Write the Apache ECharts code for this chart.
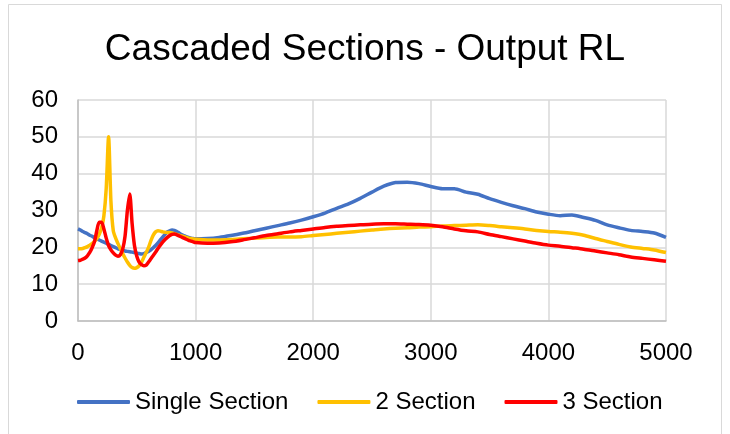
<!DOCTYPE html>
<html>
<head>
<meta charset="utf-8">
<script src="https://cdn.jsdelivr.net/npm/echarts@6/dist/echarts.min.js"></script>
<style>
  html, body { margin: 0; padding: 0; background: #ffffff; }
  #chart { width: 730px; height: 434px; }
</style>
</head>
<body>
<div id="chart"></div>
<script>
// Frequency sample points (fine steps up to 1000, then every 100)
const freq = [
  0, 20, 40, 60, 80, 100, 120, 140, 160, 180,
  200, 220, 240, 260, 280, 300, 320, 340, 360, 380,
  400, 420, 440, 460, 480, 500, 520, 540, 560, 580,
  600, 620, 640, 660, 680, 700, 720, 740, 760, 780,
  800, 820, 840, 860, 880, 900, 920, 940, 960, 980,
  1000, 1100, 1200, 1300, 1400, 1500, 1600, 1700, 1800, 1900,
  2000, 2100, 2200, 2300, 2400, 2500, 2600, 2700, 2800, 2900,
  3000, 3100, 3200, 3300, 3400, 3500, 3600, 3700, 3800, 3900,
  4000, 4100, 4200, 4300, 4400, 4500, 4600, 4700, 4800, 4900,
  5000
];

const singleSection = [
  25.0, 24.7, 24.3, 24.0, 23.7, 23.3, 23.0, 22.6, 22.3, 22.0,
  21.7, 21.4, 21.1, 20.8, 20.5, 20.2, 19.9, 19.6, 19.4, 19.2,
  19.0, 18.9, 18.8, 18.7, 18.6, 18.4, 18.3, 18.2, 18.3, 18.6,
  18.9, 19.3, 19.9, 20.5, 21.2, 22.0, 22.8, 23.5, 24.2, 24.5,
  24.7, 24.6, 24.3, 23.9, 23.5, 23.2, 22.9, 22.7, 22.5, 22.4,
  22.3, 22.4, 22.7, 23.2, 23.8, 24.5, 25.2, 25.9, 26.6, 27.4,
  28.3, 29.3, 30.6, 31.8, 33.3, 35.0, 36.6, 37.6, 37.7, 37.3,
  36.5, 35.9, 35.9, 35.0, 34.4, 33.2, 32.2, 31.3, 30.5, 29.6,
  29.0, 28.6, 28.8, 28.1, 27.3, 26.1, 25.3, 24.6, 24.3, 23.9,
  22.7
];

const twoSection = [
  19.6, 19.6, 19.7, 19.9, 20.2, 20.6, 21.0, 21.6, 22.4, 23.5,
  25.2, 28.5, 36.0, 50.0, 32.5, 24.5, 22.5, 21.0, 19.6, 18.3,
  17.1, 16.0, 15.1, 14.5, 14.3, 14.5, 15.0, 16.0, 17.3, 18.6,
  20.0, 21.8, 23.3, 24.2, 24.5, 24.4, 24.2, 24.1, 24.0, 24.0,
  23.9, 23.7, 23.5, 23.3, 23.1, 22.9, 22.7, 22.5, 22.4, 22.3,
  22.2, 22.0, 22.0, 22.1, 22.3, 22.5, 22.7, 22.8, 22.8, 22.9,
  23.2, 23.5, 23.8, 24.1, 24.4, 24.7, 25.0, 25.2, 25.3, 25.5,
  25.6, 25.8, 25.9, 26.0, 26.1, 25.9, 25.6, 25.3, 25.0, 24.6,
  24.3, 24.1, 23.8, 23.3, 22.4, 21.6, 20.8, 20.1, 19.7, 19.3,
  18.6
];

const threeSection = [
  16.4, 16.5, 16.8, 17.1, 17.7, 18.6, 19.9, 21.5, 24.5, 26.8,
  26.8, 25.0, 22.5, 20.5, 19.3, 18.5, 17.9, 17.6, 18.0, 19.5,
  23.0, 30.0, 34.5, 26.5, 20.5, 17.6, 16.0, 15.3, 15.0, 15.2,
  16.0, 16.9, 17.8, 18.7, 19.7, 20.6, 21.4, 22.1, 22.7, 23.2,
  23.5, 23.6, 23.4, 23.1, 22.8, 22.5, 22.2, 21.9, 21.7, 21.5,
  21.3, 21.1, 21.2, 21.5, 22.0, 22.6, 23.2, 23.7, 24.2, 24.6,
  25.0, 25.4, 25.7, 25.9, 26.1, 26.3, 26.4, 26.4, 26.3, 26.2,
  26.0, 25.6, 25.0, 24.5, 24.2, 23.5, 22.9, 22.3, 21.7, 21.1,
  20.6, 20.3, 19.9, 19.5, 19.0, 18.5, 18.0, 17.4, 17.0, 16.6,
  16.2
];

const seriesNames = ['Single Section', '2 Section', '3 Section'];
const seriesColors = ['#4472C4', '#FFC000', '#FF0000'];
const seriesValues = [singleSection, twoSection, threeSection];

const FONT = '"Liberation Sans", Arial, sans-serif';

const chart = echarts.init(document.getElementById('chart'), null, { renderer: 'canvas' });

chart.setOption({
  backgroundColor: '#ffffff',
  animation: false,
  title: {
    text: 'Cascaded Sections - Output RL',
    left: 'center',
    top: 26,
    textStyle: { fontFamily: FONT, fontSize: 37, fontWeight: 'normal', color: '#000000' }
  },
  legend: {
    bottom: 15,
    left: 72,
    icon: 'roundRect',
    itemWidth: 53,
    itemHeight: 4,
    itemGap: 29,
    textStyle: { fontFamily: FONT, fontSize: 24, color: '#000000' },
    data: seriesNames
  },
  grid: { left: 78, right: 64, top: 100, bottom: 113, containLabel: false },
  xAxis: {
    type: 'value',
    min: 0,
    max: 5000,
    interval: 1000,
    axisLine: { show: true, lineStyle: { color: '#bfbfbf', width: 1.5 } },
    axisTick: { show: false },
    axisLabel: {
      fontFamily: FONT, fontSize: 24, color: '#000000', margin: 20,
      formatter: (v) => String(v)
    },
    splitLine: { show: true, lineStyle: { color: '#d9d9d9', width: 1.5 } }
  },
  yAxis: {
    type: 'value',
    min: 0,
    max: 60,
    interval: 10,
    axisLine: { show: true, lineStyle: { color: '#bfbfbf', width: 1.5 } },
    axisTick: { show: false },
    axisLabel: { fontFamily: FONT, fontSize: 24, color: '#000000', margin: 20 },
    splitLine: { show: true, lineStyle: { color: '#d9d9d9', width: 1.5 } }
  },
  graphic: [{
    type: 'rect',
    shape: { x: 8.5, y: 4.5, width: 713, height: 460 },
    style: { fill: 'none', stroke: '#d9d9d9', lineWidth: 1 },
    silent: true,
    z: -1
  }],
  series: seriesNames.map((name, k) => ({
    name: name,
    type: 'line',
    data: freq.map((f, i) => [f, seriesValues[k][i]]),
    symbol: 'none',
    smooth: 0.25,
    color: seriesColors[k],
    lineStyle: { color: seriesColors[k], width: 3.5 },
    z: 2 + k
  }))
});
</script>
</body>
</html>
